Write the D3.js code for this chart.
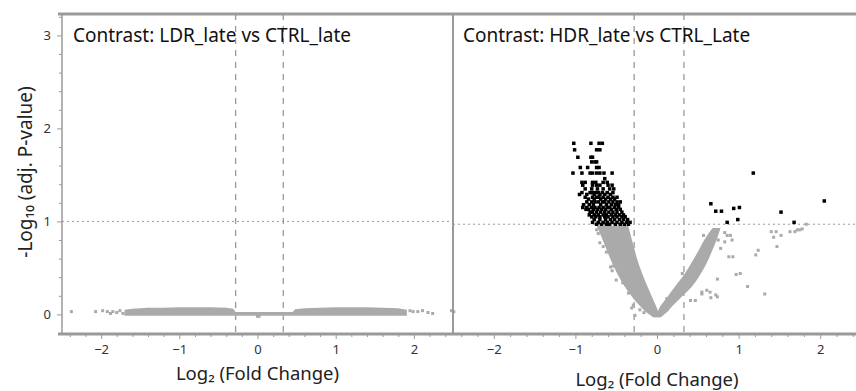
<!DOCTYPE html>
<html><head><meta charset="utf-8">
<script src="https://cdn.jsdelivr.net/npm/d3@7"></script>
<style>body{margin:0;background:#fff}svg{display:block}text{font-family:"Noto Sans",sans-serif}</style>
</head><body><svg id="c" width="856" height="391"></svg>
<script>
// ---------- data ----------
const panelTitles = ["Contrast: LDR_late vs CTRL_late", "Contrast: HDR_late vs CTRL_Late"];
const xTickValues = [-2, -1, 0, 1, 2];
const yTickValues = [0, 1, 2, 3];
const fcThresholds = [-0.28, 0.33];
const pThreshold = 1;

// LDR panel: dense band of genes (envelope) + sparse points
const ldrBandX  = [-1.70,-1.60,-1.40,-1.20,-1.00,-0.80,-0.60,-0.40,-0.31,-0.28,0.45,0.48,0.60,0.80,1.00,1.20,1.40,1.60,1.80,1.91];
const ldrBandHi = [0.040,0.050,0.060,0.060,0.065,0.065,0.065,0.060,0.050,0.015,0.015,0.045,0.055,0.060,0.065,0.065,0.065,0.060,0.055,0.040];
const ldrBandLo = [-0.005,-0.005,-0.005,-0.005,-0.005,-0.005,-0.005,-0.005,-0.005,-0.005,-0.005,-0.005,-0.005,-0.005,-0.005,-0.005,-0.005,-0.005,-0.005,-0.005];
const ldrPointsX = [-2.38,-2.07,-1.98,-1.92,-1.88,-1.85,-1.80,-1.76,-1.72,1.95,1.99,2.05,2.11,2.18,2.24,2.48,0.00,0.02];
const ldrPointsY = [0.03,0.03,0.04,0.03,0.01,0.03,0.02,0.04,0.01,0.04,0.03,0.03,0.04,0.02,0.01,0.04,-0.02,-0.02];

// HDR panel: two dense arms of the volcano (envelopes by -log10 p)
const hdrLeftArmV  = [0.00,0.05,0.12,0.20,0.32,0.47,0.62,0.75,0.88,0.98];
const hdrLeftArmLo = [-0.03,-0.11,-0.19,-0.27,-0.37,-0.47,-0.55,-0.61,-0.67,-0.72];
const hdrLeftArmHi = [0.02,0.00,-0.03,-0.07,-0.13,-0.20,-0.26,-0.30,-0.34,-0.37];
const hdrRightArmV  = [0.00,0.05,0.12,0.20,0.32,0.47,0.60,0.72,0.85,0.96];
const hdrRightArmLo = [-0.02,0.02,0.06,0.13,0.23,0.36,0.45,0.53,0.61,0.70];
const hdrRightArmHi = [0.03,0.10,0.17,0.26,0.40,0.52,0.60,0.66,0.72,0.76];
// HDR non-significant scattered genes
const hdrGrayX = [-0.74,-0.72,-0.70,-0.57,-0.54,-0.55,-0.42,-0.31,-0.27,-0.21,-0.29,-2.49,-0.50,-0.62,-0.66,-0.35,-0.16,
  0.57,0.68,0.71,0.74,0.75,0.83,0.86,0.90,0.92,0.83,0.88,0.93,0.97,0.74,1.11,0.74,0.66,0.61,0.65,0.72,0.55,0.55,0.41,0.47,0.31,
  1.32,1.21,1.24,1.40,1.46,1.43,1.52,1.47,1.63,1.69,1.72,1.75,1.78,1.83,1.02,0.64,0.70,0.78,0.58,0.50,0.12,0.27,0.36];
const hdrGrayY = [0.94,0.90,0.80,0.54,0.55,0.50,0.37,0.10,0.02,0.08,0.13,0.06,0.40,0.70,0.76,0.26,0.05,
  0.88,0.91,0.91,0.94,0.83,0.91,0.88,0.88,0.83,0.81,0.65,0.65,0.46,0.41,0.33,0.22,0.21,0.29,0.27,0.24,0.25,0.27,0.18,0.18,0.47,
  0.25,0.67,0.72,0.92,0.92,0.86,0.88,0.76,0.92,0.92,0.94,0.94,0.95,1.00,0.47,0.78,0.86,0.74,0.66,0.58,0.20,0.35,0.42];
// HDR significant genes, by row of -log10 p
const hdrSigRowY = [1.87,1.80,1.72,1.67,1.61,1.55,1.49,1.45,1.42,1.38,1.34,1.32,1.29,1.27,1.24,1.21,1.18,1.16,1.13,1.10,1.08,1.05,1.02,1.00];
const hdrSigRowX = [
  [-1.02,-0.81,-0.71,-0.67],
  [-1.01,-0.74,-0.70],
  [-0.97,-0.81,-0.79],
  [-0.80,-0.76,-0.74],
  [-0.94,-0.85,-0.74,-0.71],
  [-1.03,-0.92,-0.82,-0.79,-0.74,-0.70,-0.65,-0.55],
  [-0.64],
  [-0.92,-0.88,-0.79,-0.75,-0.66,-0.61],
  [-0.91,-0.79,-0.74,-0.70,-0.60,-0.55],
  [-0.88,-0.80,-0.73,-0.66,-0.58,-0.53],
  [-0.92,-0.82,-0.79,-0.75,-0.72,-0.67,-0.61,-0.54],
  [-0.95,-0.86,-0.77,-0.70,-0.64,-0.57],
  [-0.88,-0.79,-0.74,-0.71,-0.66,-0.60,-0.54,-0.49],
  [-0.84,-0.77,-0.69,-0.63,-0.57,-0.52],
  [-0.86,-0.80,-0.76,-0.72,-0.67,-0.64,-0.59,-0.54,-0.49,-0.45],
  [-0.90,-0.83,-0.78,-0.69,-0.62,-0.56,-0.51,-0.47],
  [-0.91,-0.86,-0.80,-0.76,-0.71,-0.66,-0.61,-0.58,-0.52,-0.47],
  [-0.87,-0.84,-0.78,-0.73,-0.68,-0.63,-0.56,-0.50,-0.45],
  [-0.82,-0.79,-0.74,-0.69,-0.64,-0.59,-0.54,-0.49,-0.43],
  [-0.83,-0.77,-0.72,-0.66,-0.62,-0.56,-0.51,-0.46,-0.41],
  [-0.80,-0.75,-0.70,-0.64,-0.60,-0.54,-0.49,-0.43,-0.39],
  [-0.77,-0.70,-0.63,-0.57,-0.52,-0.46,-0.41,-0.36],
  [-0.79,-0.72,-0.66,-0.61,-0.55,-0.49,-0.43,-0.37,-0.33],
  [-0.74,-0.68,-0.62,-0.58,-0.51,-0.45,-0.40,-0.35]
];
const hdrSigExtraX = [0.66,0.72,0.79,0.86,0.94,1.01,0.99,1.18,1.52,1.68,2.05];
const hdrSigExtraY = [1.22,1.14,1.14,1.02,1.17,1.18,1.05,1.55,1.13,1.02,1.25];

// ---------- drawing ----------
const svg = d3.select("#c");
const gray = "#aaaaaa", axisGray = "#9a9a9a";
const frameTop = 14, frameBottom = 334;

const panels = [
  {x: d3.scaleLinear().domain([-2.5, 2.5]).range([62, 453]),
   y: d3.scaleLinear().domain([-0.2, 3.23]).range([333, 14]), title: panelTitles[0], tx: 73, ly: 380},
  {x: d3.scaleLinear().domain([-2.5, 2.5]).range([453, 861]),
   y: d3.scaleLinear().domain([-0.18, 3.26]).range([334, 14]), title: panelTitles[1], tx: 463, ly: 386}
];

svg.append("defs").append("clipPath").attr("id", "clipAll")
  .append("rect").attr("x", 62).attr("y", frameTop).attr("width", 800).attr("height", frameBottom - frameTop);

panels.forEach((p, i) => {
  const [x0, x1] = p.x.range();
  const g = svg.append("g").attr("clip-path", "url(#clipAll)");
  fcThresholds.forEach(t => {
    g.append("line").attr("x1", p.x(t)).attr("x2", p.x(t)).attr("y1", frameTop).attr("y2", frameBottom)
      .attr("stroke", axisGray).attr("stroke-width", 1.3).attr("stroke-dasharray", "6,6");
  });
  g.append("line").attr("x1", x0).attr("x2", x1).attr("y1", p.y(pThreshold)).attr("y2", p.y(pThreshold))
    .attr("stroke", axisGray).attr("stroke-width", 1).attr("stroke-dasharray", "2,3");
  p.g = g;
  const minor = p.x.ticks(25).filter(v => Math.abs(v - Math.round(v)) > 1e-6);
  svg.append("g").attr("transform", `translate(0,${frameBottom})`)
    .call(d3.axisBottom(p.x).tickValues(minor).tickSize(3).tickFormat(""))
    .call(a => a.select(".domain").remove())
    .call(a => a.selectAll("line").attr("stroke", axisGray));
  svg.append("g").attr("transform", `translate(0,${frameBottom})`)
    .call(d3.axisBottom(p.x).tickValues(xTickValues).tickSize(5).tickPadding(6).tickFormat(d3.format("d")))
    .call(a => a.select(".domain").remove())
    .call(a => a.selectAll("line").attr("stroke", axisGray))
    .call(a => a.selectAll("text").attr("font-size", 13).attr("fill", "#333").attr("font-family", "Noto Sans"));
  svg.append("text").attr("x", p.tx).attr("y", 42).attr("font-size", 19).attr("fill", "#111").text(p.title);
  svg.append("text").attr("x", p.x(0)).attr("y", p.ly)
    .attr("text-anchor", "middle").attr("font-size", 18.5).attr("fill", "#222").text("Log₂ (Fold Change)");
});

const L = panels[0];
L.g.append("path").datum(ldrBandX.map((x, i) => ({x, lo: ldrBandLo[i], hi: ldrBandHi[i]})))
  .attr("fill", gray)
  .attr("d", d3.area().x(d => L.x(d.x)).y0(d => L.y(d.lo) + 1).y1(d => L.y(d.hi) - 1));
L.g.selectAll(".lp").data(ldrPointsX.map((x, i) => [x, ldrPointsY[i]])).join("rect")
  .attr("x", d => L.x(d[0]) - 1.5).attr("y", d => L.y(d[1]) - 1.5).attr("width", 3).attr("height", 3).attr("fill", gray);

const R = panels[1];
const armArea = d3.area().y(d => R.y(d.v)).x0(d => R.x(d.lo) - 1.5).x1(d => R.x(d.hi) + 1.5).curve(d3.curveMonotoneY);
R.g.append("path").datum(hdrLeftArmV.map((v, i) => ({v, lo: hdrLeftArmLo[i], hi: hdrLeftArmHi[i]})))
  .attr("fill", gray).attr("d", armArea);
R.g.append("path").datum(hdrRightArmV.map((v, i) => ({v, lo: hdrRightArmLo[i], hi: hdrRightArmHi[i]})))
  .attr("fill", gray).attr("d", armArea);
R.g.selectAll(".gp").data(hdrGrayX.map((x, i) => [x, hdrGrayY[i]])).join("rect")
  .attr("x", d => R.x(d[0]) - 1.5).attr("y", d => R.y(d[1]) - 1.5).attr("width", 3).attr("height", 3).attr("fill", gray);
const sig = [];
hdrSigRowY.forEach((v, r) => hdrSigRowX[r].forEach(x => sig.push([x, v])));
hdrSigExtraX.forEach((x, i) => sig.push([x, hdrSigExtraY[i]]));
R.g.selectAll(".sp").data(sig).join("rect")
  .attr("x", d => R.x(d[0]) - 1.75).attr("y", d => R.y(d[1]) - 1.75).attr("width", 3.5).attr("height", 3.5).attr("fill", "#000");

const minorY = L.y.ticks(17).filter(v => v >= 0 && Math.abs(v - Math.round(v)) > 1e-6);
svg.append("g").attr("transform", "translate(62,0)")
  .call(d3.axisLeft(L.y).tickValues(minorY).tickSize(3).tickFormat(""))
  .call(a => a.select(".domain").remove())
  .call(a => a.selectAll("line").attr("stroke", axisGray));
svg.append("g").attr("transform", "translate(62,0)")
  .call(d3.axisLeft(L.y).tickValues(yTickValues).tickSize(5).tickPadding(6).tickFormat(d3.format("d")))
  .call(a => a.select(".domain").remove())
  .call(a => a.selectAll("line").attr("stroke", axisGray))
  .call(a => a.selectAll("text").attr("font-size", 13).attr("fill", "#333").attr("font-family", "Noto Sans"));
svg.append("text").attr("transform", "translate(32,172) rotate(-90)").attr("text-anchor", "middle")
  .attr("font-size", 19).attr("fill", "#222").text("-Log₁₀ (adj. P-value)");

svg.append("line").attr("x1", 62).attr("x2", 62).attr("y1", frameTop).attr("y2", frameBottom).attr("stroke", axisGray).attr("stroke-width", 1.5);
svg.append("line").attr("x1", 453).attr("x2", 453).attr("y1", frameTop).attr("y2", frameBottom).attr("stroke", axisGray).attr("stroke-width", 2);
svg.append("line").attr("x1", 58).attr("x2", 856).attr("y1", frameTop).attr("y2", frameTop).attr("stroke", axisGray).attr("stroke-width", 3);
svg.append("line").attr("x1", 58).attr("x2", 856).attr("y1", frameBottom).attr("y2", frameBottom).attr("stroke", axisGray).attr("stroke-width", 3);
</script></body></html>
